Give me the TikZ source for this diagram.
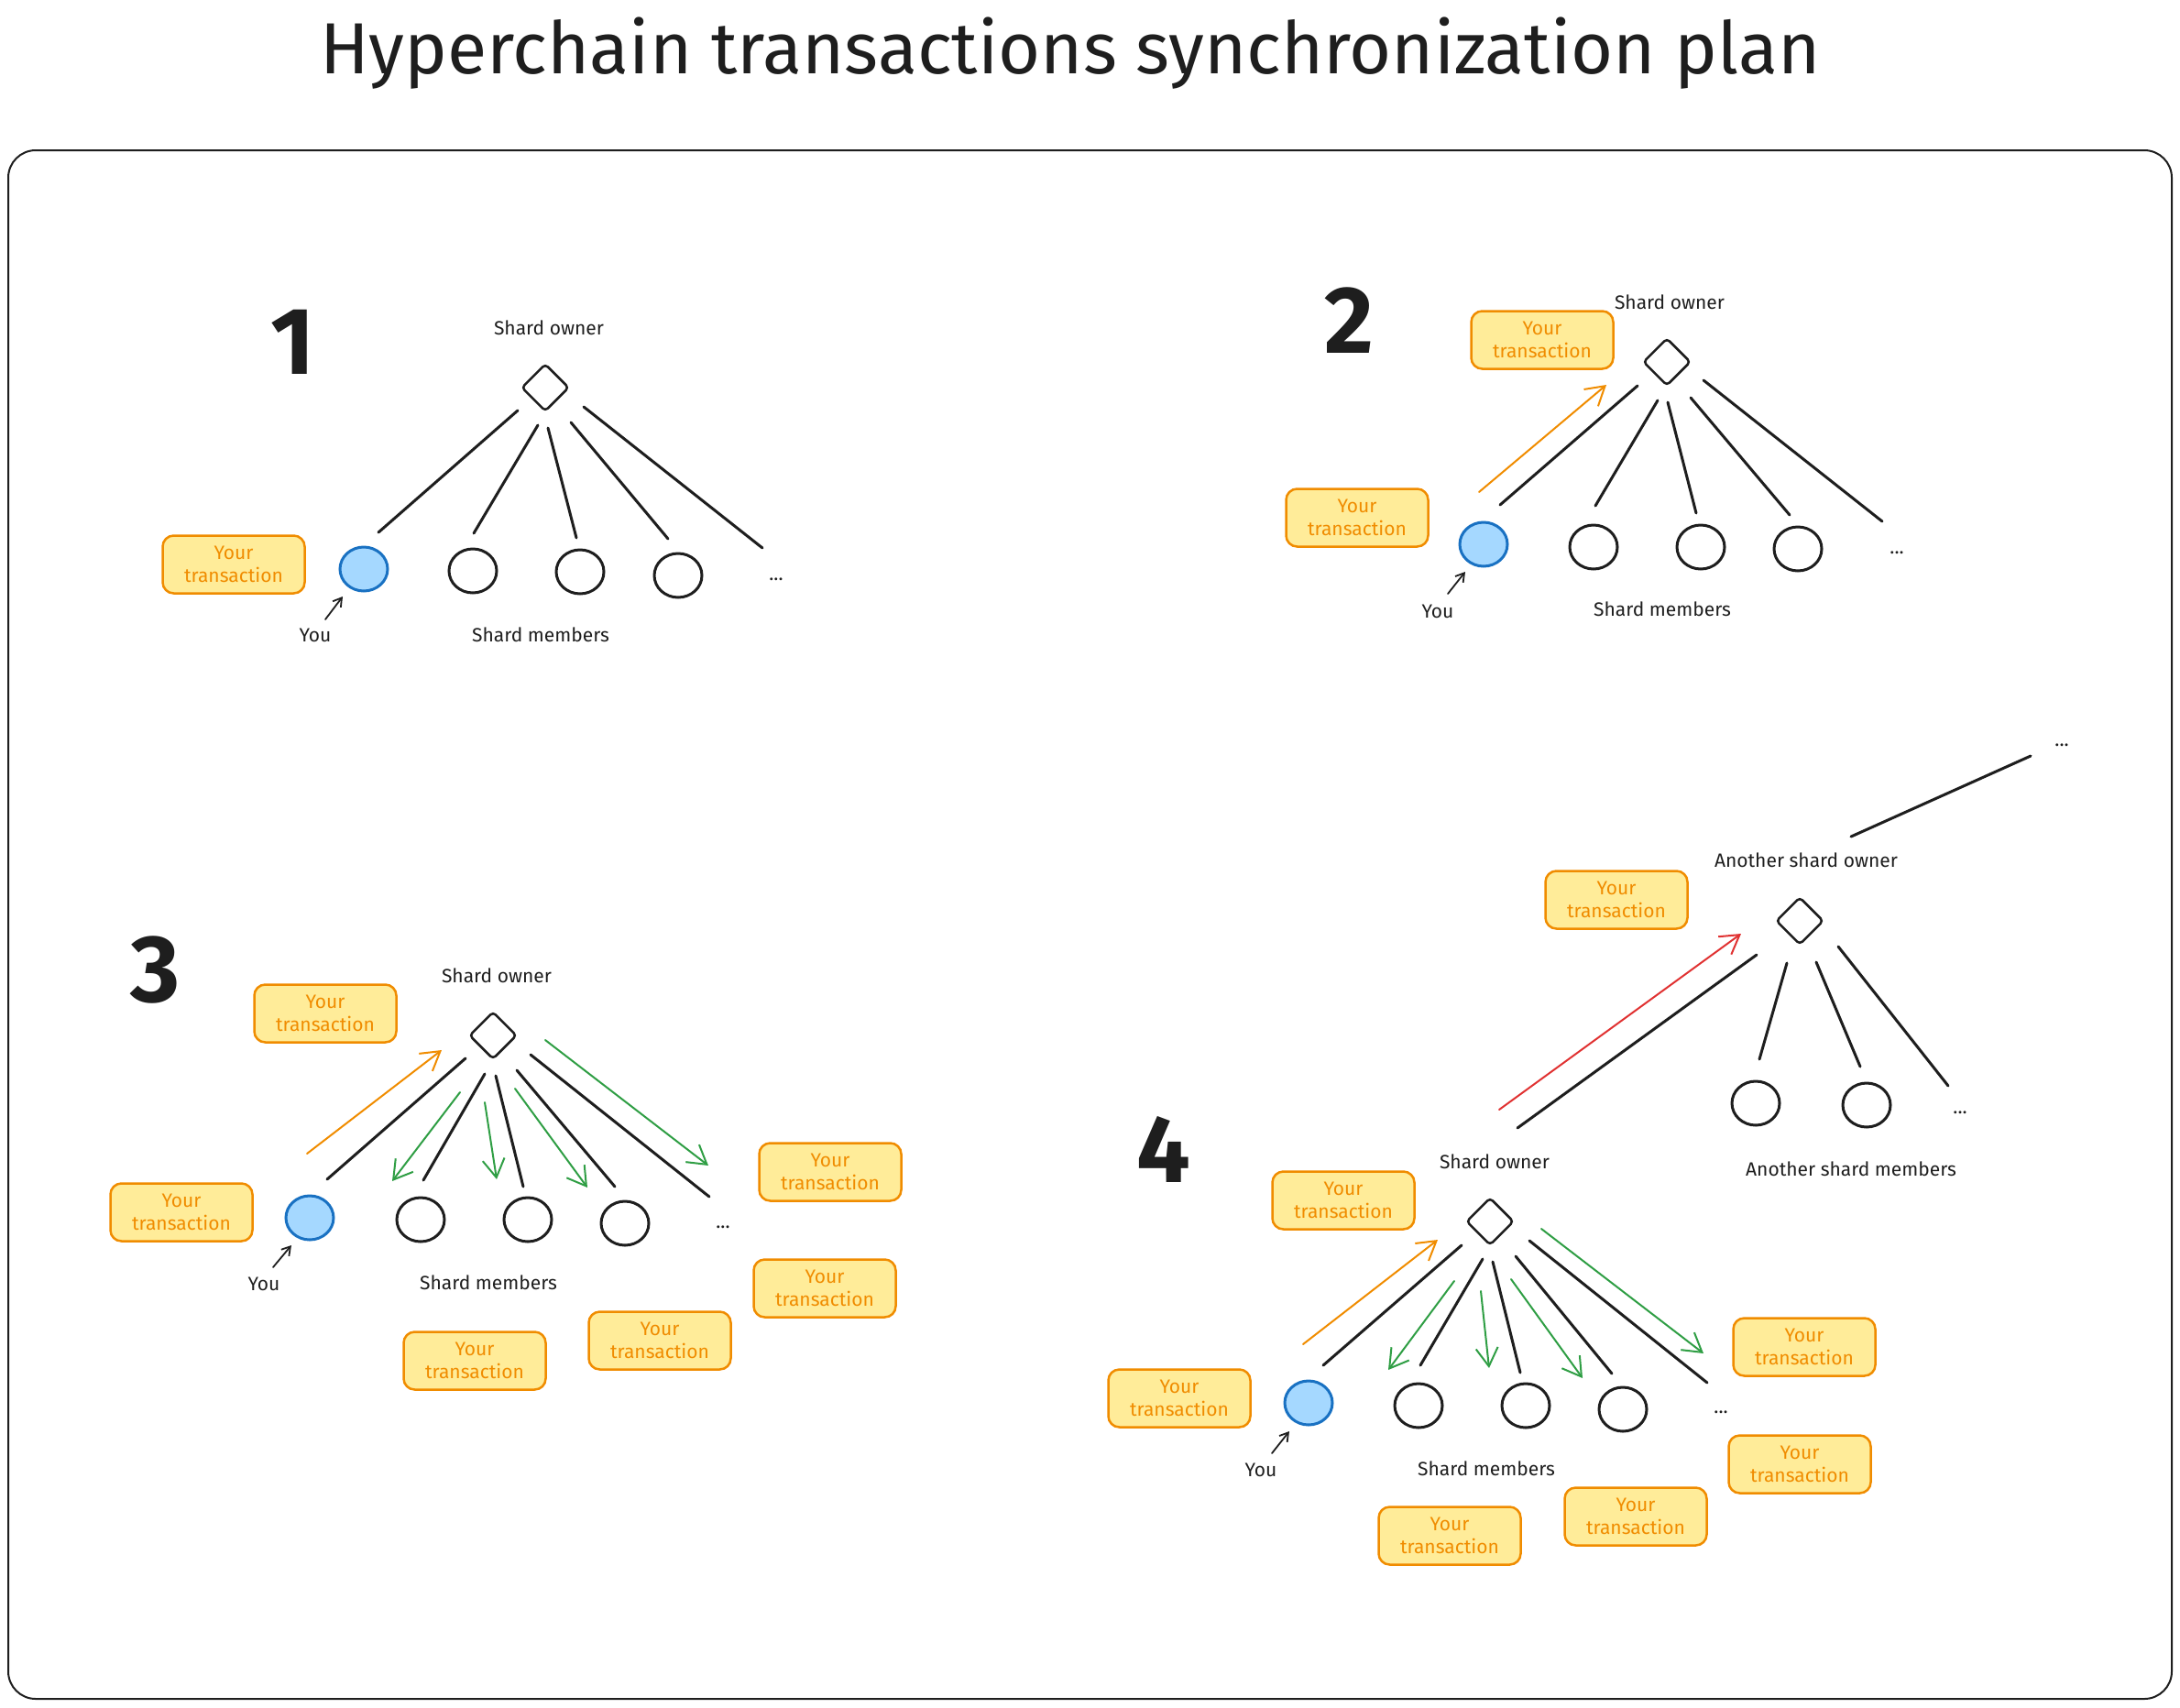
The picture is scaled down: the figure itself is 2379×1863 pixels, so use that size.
\documentclass[tikz,border=0pt]{standalone}
\usepackage{fontspec}
\setmainfont{Fira Sans}
\usetikzlibrary{arrows.meta,shapes.geometric}
\definecolor{ink}{HTML}{1E1E1E}
\definecolor{txorange}{HTML}{F08C00}
\definecolor{txfill}{HTML}{FFEC99}
\definecolor{youfill}{HTML}{A5D8FF}
\definecolor{youline}{HTML}{1971C2}
\definecolor{syncgreen}{HTML}{2F9E44}
\definecolor{hopred}{HTML}{E03131}

\begin{document}
\begin{tikzpicture}[x=1pt,y=-1pt,
  owner/.style={diamond,draw=ink,line width=2.5pt,minimum width=52pt,minimum height=52pt,inner sep=0pt,rounded corners=4pt},
  member/.style={ellipse,draw=ink,line width=3pt,minimum width=52pt,minimum height=48pt,inner sep=0pt},
  you/.style={member,draw=youline,fill=youfill},
  txbox/.style={draw=txorange,fill=txfill,line width=2.5pt,rounded corners=12pt,minimum width=155pt,minimum height=63pt,align=center,text=txorange,font=\fontsize{21}{25}\selectfont},
  lbl/.style={text=ink,font=\fontsize{21}{24}\selectfont,inner sep=0pt},
  num/.style={text=ink,font=\fontsize{104}{104}\selectfont\bfseries,inner sep=0pt},
  link/.style={draw=ink,line width=3pt,line cap=round},
  send/.style={draw=txorange,line width=2pt,line cap=round,-{Straight Barb[length=20pt,width=24pt]}},
  sync/.style={send,draw=syncgreen},
  hop/.style={send,draw=hopred},
  pointer/.style={draw=ink,line width=1.8pt,line cap=round,-{Straight Barb[length=9pt,width=11pt]}}
]
  \useasboundingbox (0,0) rectangle (2379,1863);
  \node[text=ink,font=\fontsize{79}{79}\selectfont] (title) at (1168,58) {Hyperchain transactions synchronization plan};
  \draw[ink,line width=2pt,rounded corners=30pt] (9,164) rectangle (2370,1854);

  \node[num] (n1) at (320,373) {1};
  \node[lbl] (own1lbl) at (599,358) {Shard owner};
  \node[owner] (own1) at (595,423) {};
  \node[txbox] (tx1a) at (255,616) {Your\\transaction};
  \node[you] (you1) at (397,621) {};
  \foreach \n/\x/\y in {2/516/623,3/633/624,4/740/628}
    \node[member] (m1\n) at (\x,\y) {};
  \node[lbl] (dots1) at (847,632) {...};
  \node[lbl] (youlbl1) at (344,693) {You};
  \node[lbl] (mem1lbl) at (590,693) {Shard members};
  \foreach \t/\sx/\sy/\ex/\ey in {you1/-30/25/16/-40,m12/-8/41/1/-41,m13/3/44/-4/-37,m14/28/38/-11/-40,dots1/42/21/-15/-34}
    \draw[link] ([shift={(\sx,\sy)}]own1.center) -- ([shift={(\ex,\ey)}]\t.center);
  \draw[pointer] ([shift={(11,-17)}]youlbl1.center) -- ([shift={(-23,30)}]you1.center);

  \node[num] (n2) at (1472,350) {2};
  \node[lbl] (own2lbl) at (1822,330) {Shard owner};
  \node[owner] (own2) at (1819,395) {};
  \node[txbox] (tx2a) at (1683,371) {Your\\transaction};
  \node[txbox] (tx2b) at (1481,565) {Your\\transaction};
  \node[you] (you2) at (1619,594) {};
  \foreach \n/\x/\y in {2/1739/597,3/1856/597,4/1962/599}
    \node[member] (m2\n) at (\x,\y) {};
  \node[lbl] (dots2) at (2070,603) {...};
  \node[lbl] (youlbl2) at (1569,667) {You};
  \node[lbl] (mem2lbl) at (1814,665) {Shard members};
  \foreach \t/\sx/\sy/\ex/\ey in {you2/-32/26/18/-43,m22/-10/42/2/-45,m23/1/44/-5/-37,m24/26/39/-9/-37,dots2/40/20/-16/-34}
    \draw[link] ([shift={(\sx,\sy)}]own2.center) -- ([shift={(\ex,\ey)}]\t.center);
  \draw[send] ([shift={(-5,-57)}]you2.center) -- ([shift={(-66,25)}]own2.center);
  \draw[pointer] ([shift={(11,-19)}]youlbl2.center) -- ([shift={(-20,30)}]you2.center);

  \node[num] (n3) at (170,1058) {3};
  \node[lbl] (own3lbl) at (542,1065) {Shard owner};
  \node[owner] (own3) at (538,1130) {};
  \node[txbox] (tx3a) at (355,1106) {Your\\transaction};
  \node[txbox] (tx3b) at (198,1323) {Your\\transaction};
  \node[you] (you3) at (338,1329) {};
  \foreach \n/\x/\y in {2/459/1331,3/576/1331,4/682/1335}
    \node[member] (m3\n) at (\x,\y) {};
  \node[lbl] (dots3) at (789,1339) {...};
  \node[lbl] (youlbl3) at (288,1401) {You};
  \node[lbl] (mem3lbl) at (533,1400) {Shard members};
  \node[txbox] (tx3c) at (906,1279) {Your\\transaction};
  \node[txbox] (tx3d) at (900,1406) {Your\\transaction};
  \node[txbox] (tx3e) at (518,1485) {Your\\transaction};
  \node[txbox] (tx3f) at (720,1463) {Your\\transaction};
  \foreach \t/\sx/\sy/\ex/\ey in {you3/-30/25/19/-42,m32/-9/42/3/-43,m33/3/44/-5/-36,m34/26/38/-11/-40,dots3/41/21/-15/-33}
    \draw[link] ([shift={(\sx,\sy)}]own3.center) -- ([shift={(\ex,\ey)}]\t.center);
  \draw[send] ([shift={(-3,-70)}]you3.center) -- ([shift={(-56,16)}]own3.center);
  \foreach \t/\sx/\sy/\ex/\ey in {m32/-36/62/-31/-42,m33/-9/73/-34/-44,m34/24/58/-41/-39,dots3/57/5/-16/-67}
    \draw[sync] ([shift={(\sx,\sy)}]own3.center) -- ([shift={(\ex,\ey)}]\t.center);
  \draw[pointer] ([shift={(10,-18)}]youlbl3.center) -- ([shift={(-20,30)}]you3.center);

  \node[num] (n4) at (1270,1254) {4};
  \node[lbl] (topdots) at (2250,813) {...};
  \node[lbl] (aown4lbl) at (1971,939) {Another shard owner};
  \node[owner] (aown4) at (1964,1005) {};
  \node[txbox] (tx4a) at (1764,982) {Your\\transaction};
  \foreach \n/\x/\y in {1/1916/1204,2/2037/1206}
    \node[member] (am\n) at (\x,\y) {};
  \node[lbl] (adots) at (2139,1214) {...};
  \node[lbl] (amemlbl) at (2020,1276) {Another shard members};
  \node[lbl] (own4lbl) at (1631,1268) {Shard owner};
  \node[owner] (own4) at (1626,1333) {};
  \node[txbox] (tx4b) at (1466,1310) {Your\\transaction};
  \node[txbox] (tx4c) at (1287,1526) {Your\\transaction};
  \node[you] (you4) at (1428,1531) {};
  \foreach \n/\x/\y in {2/1548/1534,3/1665/1534,4/1771/1538}
    \node[member] (m4\n) at (\x,\y) {};
  \node[lbl] (dots4) at (1878,1541) {...};
  \node[lbl] (youlbl4) at (1376,1604) {You};
  \node[lbl] (mem4lbl) at (1622,1603) {Shard members};
  \node[txbox] (tx4d) at (1969,1470) {Your\\transaction};
  \node[txbox] (tx4e) at (1964,1598) {Your\\transaction};
  \node[txbox] (tx4f) at (1582,1676) {Your\\transaction};
  \node[txbox] (tx4g) at (1785,1655) {Your\\transaction};
  \draw[link] ([shift={(56,-92)}]aown4.center) -- ([shift={(-34,12)}]topdots.center);
  \foreach \t/\sx/\sy/\ex/\ey in {am1/-14/46/4/-48,am2/18/45/-7/-42,adots/42/28/-13/-29}
    \draw[link] ([shift={(\sx,\sy)}]aown4.center) -- ([shift={(\ex,\ey)}]\t.center);
  \draw[link] ([shift={(30,-102)}]own4.center) -- ([shift={(-47,37)}]aown4.center);
  \draw[hop] ([shift={(10,-122)}]own4.center) -- ([shift={(-64,14)}]aown4.center);
  \foreach \t/\sx/\sy/\ex/\ey in {you4/-31/26/16/-41,m42/-8/41/2/-44,m43/3/44/-6/-36,m44/28/38/-12/-39,dots4/43/21/-15/-32}
    \draw[link] ([shift={(\sx,\sy)}]own4.center) -- ([shift={(\ex,\ey)}]\t.center);
  \draw[send] ([shift={(-6,-64)}]you4.center) -- ([shift={(-57,20)}]own4.center);
  \foreach \t/\sx/\sy/\ex/\ey in {m42/-39/65/-33/-39,m43/-10/76/-40/-41,m44/23/63/-44/-34,dots4/56/8/-19/-64}
    \draw[sync] ([shift={(\sx,\sy)}]own4.center) -- ([shift={(\ex,\ey)}]\t.center);
  \draw[pointer] ([shift={(12,-18)}]youlbl4.center) -- ([shift={(-21,31)}]you4.center);
\end{tikzpicture}
\end{document}
